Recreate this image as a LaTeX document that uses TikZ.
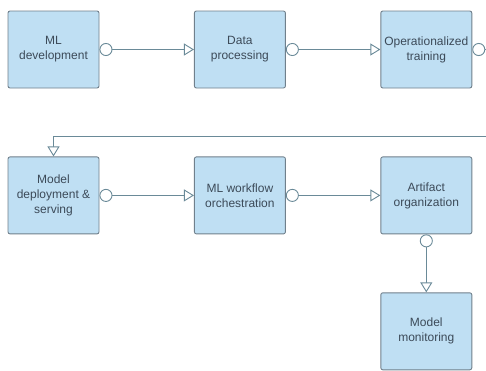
\documentclass[tikz,border=0pt]{standalone}
\usepackage{fontspec}
\setmainfont{Liberation Sans}
\usepackage{tikz}
\usetikzlibrary{arrows.meta,positioning}
\definecolor{boxfill}{RGB}{191,223,243}
\definecolor{boxline}{RGB}{112,128,140}
\definecolor{flowline}{RGB}{106,138,152}
\definecolor{labeltext}{RGB}{60,74,88}
\tikzset{
  stage/.style={draw=boxline, fill=boxfill, line width=0.9pt, rounded corners=2pt,
    minimum width=91pt, minimum height=77pt, inner sep=0pt, align=center,
    text=labeltext, font=\fontsize{12}{15}\selectfont},
  flow/.style={draw=flowline, line width=0.9pt,
    {Circle[open,length=13pt,width=13pt,fill=white]}-{Triangle[open,length=10pt,width=12pt,fill=white]}}
}

\begin{document}
\begin{tikzpicture}[x=1pt, y=-1pt, node distance=94.5pt]
  \useasboundingbox (0,0) rectangle (486,370);
  \clip (0,0) rectangle (486,370);
  \node[stage] (mldev) at (53.5,49.5) {ML\\development};
  \node[stage] (data) [right=of mldev] {Data\\processing};
  \node[stage] (train) [right=of data] {Operationalized\\training};
  \node[stage] (deploy) [below=68pt of mldev] {Model\\deployment \&\\serving};
  \node[stage] (orch) [right=of deploy] {ML workflow\\orchestration};
  \node[stage] (artifact) [right=of orch] {Artifact\\organization};
  \node[stage] (monitor) [below=58pt of artifact] {Model\\monitoring};
  \coordinate (wrap) at (500,136);
  \draw[flow] (mldev) -- (data);
  \draw[flow] (data) -- (train);
  \draw[flow] (train.east) -| (wrap) -| (deploy.north);
  \draw[flow] (deploy) -- (orch);
  \draw[flow] (orch) -- (artifact);
  \draw[flow] (artifact) -- (monitor);
\end{tikzpicture}
\end{document}
